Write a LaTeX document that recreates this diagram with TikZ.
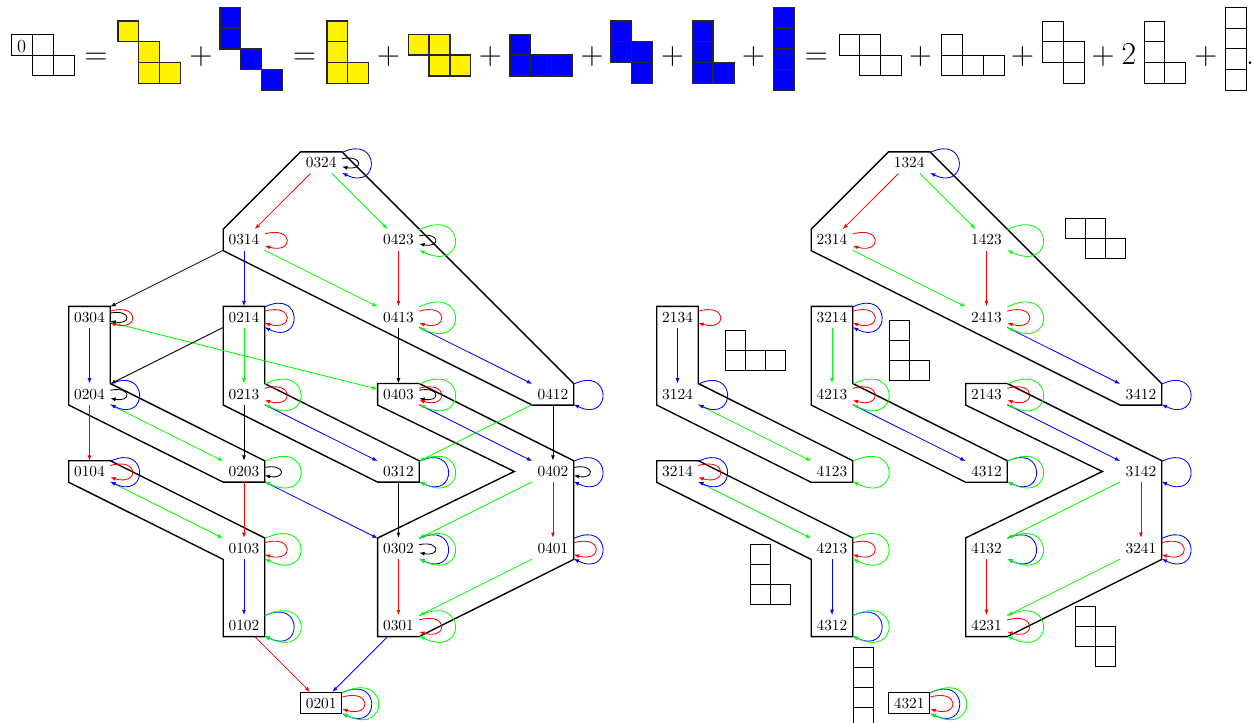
\documentclass[tikz,border=0pt]{standalone}
\usepackage{tikz}
\usetikzlibrary{arrows.meta}

\tikzset{
  region/.style={line width=0.9pt},
  sign/.style={font=\huge, anchor=base},
  kloop/.style={black, out=11, in=-11, distance=0.50cm},
  rloop/.style={red, out=16, in=-16, distance=0.70cm},
  bloop/.style={blue, out=26, in=-26, distance=0.98cm},
  gloop/.style={green, out=26, in=-26, distance=1.22cm},
  wcell/.style={draw, semithick},
  ycell/.style={draw=black!85, thick, fill=yellow},
  bcell/.style={draw=black!85, thick, fill=blue},
  every edge/.append style={line width=0.55pt},
}

\begin{document}
\begin{tikzpicture}[x=0.0229cm, y=-0.0229cm, >={Latex[length=3.5pt,width=2.6pt]}]
\useasboundingbox (0,0) rectangle (1254,723);

\draw[wcell] (11.7,34.3) rectangle ++(20.8,20.8) (32.5,34.3) rectangle ++(20.8,20.8) (32.5,55.1) rectangle ++(20.8,20.8) (53.3,55.1) rectangle ++(20.8,20.8);
\node[font=\large, anchor=base] (zero) at (21.7,52.3) {0};
\node[sign] (eqA) at (96,64) {$=$};
\draw[ycell] (118,21) rectangle ++(20.8,20.8) (138.8,41.8) rectangle ++(20.8,20.8) (138.8,62.6) rectangle ++(20.8,20.8) (159.6,62.6) rectangle ++(20.8,20.8);
\node[sign] (plA) at (201,64) {$+$};
\draw[bcell] (220,7.3) rectangle ++(20.8,20.8) (220,28.1) rectangle ++(20.8,20.8) (240.8,48.9) rectangle ++(20.8,20.8) (261.6,69.7) rectangle ++(20.8,20.8);
\node[sign] (eqB) at (304.7,64) {$=$};
\draw[ycell] (327,21) rectangle ++(20.8,20.8) (327,41.8) rectangle ++(20.8,20.8) (327,62.6) rectangle ++(20.8,20.8) (347.8,62.6) rectangle ++(20.8,20.8);
\node[sign] (plB) at (388.5,64) {$+$};
\draw[ycell] (408.3,34.3) rectangle ++(20.8,20.8) (429.1,34.3) rectangle ++(20.8,20.8) (429.1,55.1) rectangle ++(20.8,20.8) (449.9,55.1) rectangle ++(20.8,20.8);
\node[sign] (plC) at (490.3,64) {$+$};
\draw[bcell] (510,34.3) rectangle ++(20.8,20.8) (510,55.1) rectangle ++(20.8,20.8) (530.8,55.1) rectangle ++(20.8,20.8) (551.6,55.1) rectangle ++(20.8,20.8);
\node[sign] (plD) at (592,64) {$+$};
\draw[bcell] (611,21) rectangle ++(20.8,20.8) (611,41.8) rectangle ++(20.8,20.8) (631.8,41.8) rectangle ++(20.8,20.8) (631.8,62.6) rectangle ++(20.8,20.8);
\node[sign] (plE) at (672.5,64) {$+$};
\draw[bcell] (692.3,21) rectangle ++(20.8,20.8) (692.3,41.8) rectangle ++(20.8,20.8) (692.3,62.6) rectangle ++(20.8,20.8) (713.1,62.6) rectangle ++(20.8,20.8);
\node[sign] (plF) at (753.5,64) {$+$};
\draw[bcell] (773.3,7.3) rectangle ++(20.8,20.8) (773.3,28.1) rectangle ++(20.8,20.8) (773.3,48.9) rectangle ++(20.8,20.8) (773.3,69.7) rectangle ++(20.8,20.8);
\node[sign] (eqC) at (816.3,64) {$=$};
\draw[wcell] (839,34.3) rectangle ++(20.8,20.8) (859.8,34.3) rectangle ++(20.8,20.8) (859.8,55.1) rectangle ++(20.8,20.8) (880.6,55.1) rectangle ++(20.8,20.8);
\node[sign] (plG) at (920.5,64) {$+$};
\draw[wcell] (941.7,34.3) rectangle ++(20.8,20.8) (941.7,55.1) rectangle ++(20.8,20.8) (962.5,55.1) rectangle ++(20.8,20.8) (983.3,55.1) rectangle ++(20.8,20.8);
\node[sign] (plH) at (1022.5,64) {$+$};
\draw[wcell] (1042.7,21) rectangle ++(20.8,20.8) (1042.7,41.8) rectangle ++(20.8,20.8) (1063.5,41.8) rectangle ++(20.8,20.8) (1063.5,62.6) rectangle ++(20.8,20.8);
\node[sign] (plI) at (1103,64) {$+$};
\node[sign] (two) at (1129,64) {2};
\draw[wcell] (1144,21) rectangle ++(20.8,20.8) (1144,41.8) rectangle ++(20.8,20.8) (1144,62.6) rectangle ++(20.8,20.8) (1164.8,62.6) rectangle ++(20.8,20.8);
\node[sign] (plJ) at (1205.8,64) {$+$};
\draw[wcell] (1225.7,7.3) rectangle ++(20.8,20.8) (1225.7,28.1) rectangle ++(20.8,20.8) (1225.7,48.9) rectangle ++(20.8,20.8) (1225.7,69.7) rectangle ++(20.8,20.8);
\node[sign] (dot) at (1250,64) {.};

\begin{scope}[shift={(89.5,162.7)}, x=3.538cm, y=-1.768cm]
\node (n0324) at (1.5,0) {0324};
\node (n0314) at (1,1) {0314};
\node (n0423) at (2,1) {0423};
\node (n0304) at (0,2) {0304};
\node (n0214) at (1,2) {0214};
\node (n0413) at (2,2) {0413};
\node (n0204) at (0,3) {0204};
\node (n0213) at (1,3) {0213};
\node (n0403) at (2,3) {0403};
\node (n0412) at (3,3) {0412};
\node (n0104) at (0,4) {0104};
\node (n0203) at (1,4) {0203};
\node (n0312) at (2,4) {0312};
\node (n0402) at (3,4) {0402};
\node (n0103) at (1,5) {0103};
\node (n0302) at (2,5) {0302};
\node (n0401) at (3,5) {0401};
\node (n0102) at (1,6) {0102};
\node (n0301) at (2,6) {0301};
\node[draw, region] (n0201) at (1.5,7) {0201};
\coordinate (notchL) at (2.75,4);

\draw[region] (n0324.north west) -- (n0324.north east) -- (n0412.north east) -- (n0412.south east) -- (n0412.south west) -- (n0314.south west) -- (n0314.north west) -- cycle;
\draw[region] (n0304.north west) -- (n0304.north east) -- (n0204.north east) -- (n0203.north east) -- (n0203.south east) -- (n0203.south west) -- (n0204.south west) -- cycle;
\draw[region] (n0214.north west) -- (n0214.north east) -- (n0213.north east) -- (n0312.north east) -- (n0312.south east) -- (n0312.south west) -- (n0213.south west) -- cycle;
\draw[region] (n0104.north west) -- (n0104.north east) -- (n0103.north east) -- (n0102.south east) -- (n0102.south west) -- (n0103.south west) -- (n0104.south west) -- cycle;
\draw[region] (n0403.north west) -- (n0403.north east) -- (n0402.north east) -- (n0401.south east) -- (n0301.south east) -- (n0301.south west) -- (n0302.north west) -- (notchL) -- (n0403.south west) -- cycle;

\path[->] (n0324) edge[red] (n0314) edge[green] (n0423) edge[kloop] (n0324) edge[bloop] (n0324);
\path[->] (n0314) edge (n0304) edge[blue] (n0214) edge[green] (n0413) edge[rloop] (n0314);
\path[->] (n0423) edge[red] (n0413) edge[kloop] (n0423) edge[gloop] (n0423);
\path[->] (n0304) edge[blue] (n0204) edge[green] (n0403) edge[kloop] (n0304) edge[rloop] (n0304);
\path[->] (n0214) edge (n0204) edge[green] (n0213) edge[rloop] (n0214) edge[bloop] (n0214);
\path[->] (n0413) edge (n0403) edge[blue] (n0412) edge[rloop] (n0413) edge[gloop] (n0413);
\path[->] (n0204) edge[red] (n0104) edge[green] (n0203) edge[kloop] (n0204) edge[bloop] (n0204);
\path[->] (n0213) edge (n0203) edge[blue] (n0312) edge[rloop] (n0213) edge[gloop] (n0213);
\path[->] (n0403) edge[blue] (n0402) edge[kloop] (n0403) edge[rloop] (n0403) edge[gloop] (n0403);
\path[->] (n0412) edge (n0402) edge[green] (n0312) edge[bloop] (n0412);
\path[->] (n0104) edge[green] (n0103) edge[rloop] (n0104) edge[bloop] (n0104);
\path[->] (n0203) edge[red] (n0103) edge[blue] (n0302) edge[kloop] (n0203) edge[gloop] (n0203);
\path[->] (n0312) edge (n0302) edge[bloop] (n0312) edge[gloop] (n0312);
\path[->] (n0402) edge[green] (n0302) edge[red] (n0401) edge[kloop] (n0402) edge[bloop] (n0402);
\path[->] (n0103) edge[blue] (n0102) edge[rloop] (n0103) edge[gloop] (n0103);
\path[->] (n0302) edge[red] (n0301) edge[kloop] (n0302) edge[bloop] (n0302) edge[gloop] (n0302);
\path[->] (n0401) edge[green] (n0301) edge[rloop] (n0401) edge[bloop] (n0401);
\path[->] (n0102) edge[red] (n0201) edge[bloop] (n0102) edge[gloop] (n0102);
\path[->] (n0301) edge[blue] (n0201) edge[rloop] (n0301) edge[gloop] (n0301);
\path[->] (n0201) edge[rloop] (n0201) edge[bloop] (n0201) edge[gloop] (n0201);
\end{scope}

\begin{scope}[shift={(677.5,162.7)}, x=3.538cm, y=-1.768cm]
\node (m1324) at (1.5,0) {1324};
\node (m2314) at (1,1) {2314};
\node (m1423) at (2,1) {1423};
\node (m2134) at (0,2) {2134};
\node (m3214a) at (1,2) {3214};
\node (m2413) at (2,2) {2413};
\node (m3124) at (0,3) {3124};
\node (m4213a) at (1,3) {4213};
\node (m2143) at (2,3) {2143};
\node (m3412) at (3,3) {3412};
\node (m3214b) at (0,4) {3214};
\node (m4123) at (1,4) {4123};
\node (m4312a) at (2,4) {4312};
\node (m3142) at (3,4) {3142};
\node (m4213b) at (1,5) {4213};
\node (m4132) at (2,5) {4132};
\node (m3241) at (3,5) {3241};
\node (m4312b) at (1,6) {4312};
\node (m4231) at (2,6) {4231};
\node[draw, region] (m4321) at (1.5,7) {4321};
\coordinate (notchR) at (2.75,4);

\draw[region] (m1324.north west) -- (m1324.north east) -- (m3412.north east) -- (m3412.south east) -- (m3412.south west) -- (m2314.south west) -- (m2314.north west) -- cycle;
\draw[region] (m2134.north west) -- (m2134.north east) -- (m3124.north east) -- (m4123.north east) -- (m4123.south east) -- (m4123.south west) -- (m3124.south west) -- cycle;
\draw[region] (m3214a.north west) -- (m3214a.north east) -- (m4213a.north east) -- (m4312a.north east) -- (m4312a.south east) -- (m4312a.south west) -- (m4213a.south west) -- cycle;
\draw[region] (m3214b.north west) -- (m3214b.north east) -- (m4213b.north east) -- (m4312b.south east) -- (m4312b.south west) -- (m4213b.south west) -- (m3214b.south west) -- cycle;
\draw[region] (m2143.north west) -- (m2143.north east) -- (m3142.north east) -- (m3241.south east) -- (m4231.south east) -- (m4231.south west) -- (m4132.north west) -- (notchR) -- (m2143.south west) -- cycle;

\path[->] (m1324) edge[red] (m2314) edge[green] (m1423) edge[bloop] (m1324);
\path[->] (m2314) edge[green] (m2413) edge[rloop] (m2314);
\path[->] (m1423) edge[red] (m2413) edge[gloop] (m1423);
\path[->] (m2134) edge[blue] (m3124) edge[rloop] (m2134);
\path[->] (m3214a) edge[green] (m4213a) edge[rloop] (m3214a) edge[bloop] (m3214a);
\path[->] (m2413) edge[blue] (m3412) edge[rloop] (m2413) edge[gloop] (m2413);
\path[->] (m3124) edge[green] (m4123) edge[bloop] (m3124);
\path[->] (m4213a) edge[blue] (m4312a) edge[rloop] (m4213a) edge[gloop] (m4213a);
\path[->] (m2143) edge[blue] (m3142) edge[rloop] (m2143) edge[gloop] (m2143);
\path[->] (m3412) edge[bloop] (m3412);
\path[->] (m3214b) edge[green] (m4213b) edge[rloop] (m3214b) edge[bloop] (m3214b);
\path[->] (m4123) edge[gloop] (m4123);
\path[->] (m4312a) edge[bloop] (m4312a) edge[gloop] (m4312a);
\path[->] (m3142) edge[green] (m4132) edge[red] (m3241) edge[bloop] (m3142);
\path[->] (m4213b) edge[blue] (m4312b) edge[rloop] (m4213b) edge[gloop] (m4213b);
\path[->] (m4132) edge[red] (m4231) edge[bloop] (m4132) edge[gloop] (m4132);
\path[->] (m3241) edge[green] (m4231) edge[rloop] (m3241) edge[bloop] (m3241);
\path[->] (m4312b) edge[bloop] (m4312b) edge[gloop] (m4312b);
\path[->] (m4231) edge[rloop] (m4231) edge[gloop] (m4231);
\path[->] (m4321) edge[rloop] (m4321) edge[bloop] (m4321) edge[gloop] (m4321);
\end{scope}

\draw[wcell] (725,330) rectangle ++(20,20) (725,350) rectangle ++(20,20) (745,350) rectangle ++(20,20) (765,350) rectangle ++(20,20);
\draw[wcell] (889,320) rectangle ++(20,20) (889,340) rectangle ++(20,20) (889,360) rectangle ++(20,20) (909,360) rectangle ++(20,20);
\draw[wcell] (1065,218.7) rectangle ++(20,20) (1085,218.7) rectangle ++(20,20) (1085,238.7) rectangle ++(20,20) (1105,238.7) rectangle ++(20,20);
\draw[wcell] (750,544) rectangle ++(20,20) (750,564) rectangle ++(20,20) (750,584) rectangle ++(20,20) (770,584) rectangle ++(20,20);
\draw[wcell] (853,647.3) rectangle ++(20,20) (853,667.3) rectangle ++(20,20) (853,687.3) rectangle ++(20,20) (853,707.3) rectangle ++(20,20);
\draw[wcell] (1075,606) rectangle ++(20,20) (1075,626) rectangle ++(20,20) (1095,626) rectangle ++(20,20) (1095,646) rectangle ++(20,20);
\end{tikzpicture}
\end{document}
